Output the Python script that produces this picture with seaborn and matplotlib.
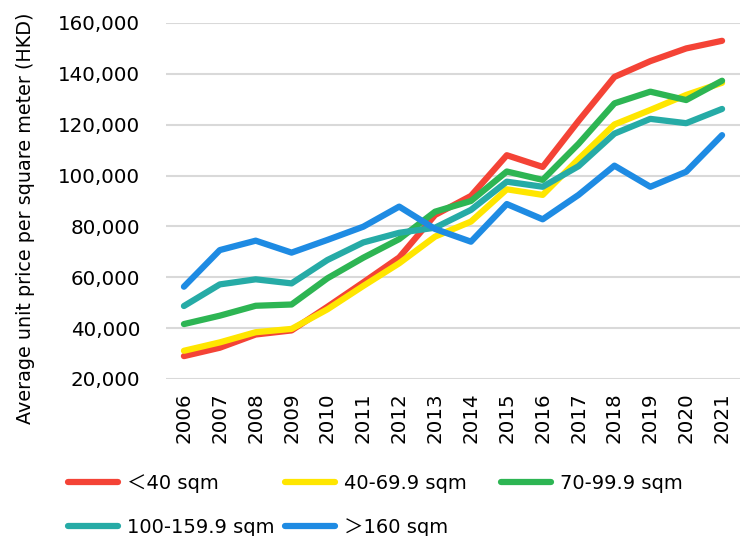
import matplotlib
matplotlib.use("Agg")
import matplotlib.pyplot as plt
import seaborn as sns
import pandas as pd
from matplotlib.font_manager import FontProperties

years = list(range(2006, 2022))
series_names = ["＜40 sqm", "40-69.9 sqm", "70-99.9 sqm", "100-159.9 sqm", "＞160 sqm"]
lt40 = [29000, 32300, 37500, 39100, 48400, 58000, 67800, 84500, 92000, 108000, 103400, 121500, 138800, 145000, 150000, 153000]
s40_69 = [31100, 34400, 38400, 39700, 47400, 56600, 65500, 76000, 81900, 94600, 92400, 106500, 120100, 125800, 131700, 136500]
s70_99 = [41600, 44900, 48800, 49300, 59600, 67700, 75000, 85800, 90000, 101600, 98300, 112500, 128400, 133000, 129700, 137300]
s100_159 = [48700, 57200, 59200, 57600, 66800, 73700, 77500, 79500, 86500, 97600, 95600, 103700, 116500, 122300, 120600, 126200]
gt160 = [56300, 70700, 74400, 69700, 74700, 79900, 87800, 79000, 74000, 88800, 82800, 92400, 103900, 95600, 101500, 115900]
colors = ["#F44336", "#FFE600", "#2DB553", "#26ABA6", "#1E8BE3"]

values = [lt40, s40_69, s70_99, s100_159, gt160]
df = pd.DataFrame({
    "year": years * len(series_names),
    "price": [v for s in values for v in s],
    "size": [n for n in series_names for _ in years],
})

sns.set_theme(style="white")
plt.rcParams["font.family"] = "DejaVu Sans"
plt.rcParams["text.color"] = "black"
plt.rcParams["xtick.color"] = "black"
plt.rcParams["ytick.color"] = "black"
plt.rcParams["axes.labelcolor"] = "black"

fig = plt.figure(figsize=(7.47, 5.36), dpi=100)
ax = fig.add_axes([166/747, 1-379/536, (740-166)/747, (379-23)/536])

sns.lineplot(data=df, x="year", y="price", hue="size", hue_order=series_names,
             palette=colors, linewidth=4.5, legend=False, ax=ax,
             solid_capstyle="round", solid_joinstyle="round")

ax.set_xlim(2005.5, 2021.5)
ax.set_ylim(20000, 160000)
ax.set_yticks(range(20000, 160001, 20000))
ax.set_yticklabels([f"{v:,}" for v in range(20000, 160001, 20000)], fontsize=14.3)
ax.set_xticks(years)
ax.set_xticklabels([str(y) for y in years], rotation=90, fontsize=14.3)
ax.tick_params(axis="y", length=0, pad=18.5)
ax.tick_params(axis="x", length=0, pad=9.5)
ax.grid(axis="y", color="#D9D9D9", linewidth=1.5)
ax.grid(axis="x", visible=False)
for sp in ax.spines.values():
    sp.set_visible(False)
ax.set_xlabel("")
ax.set_ylabel("Average unit price per square meter (HKD)", fontsize=13.8)
ax.yaxis.set_label_coords((35-166)/574, (379-218)/356)

prop = FontProperties(family=["DejaVu Sans", "Noto Sans CJK SC"], size=14)
cols = [[0, 3], [1, 4], [2]]
xs = [68, 285, 501]
for idx, x0 in zip(cols, xs):
    handles = [plt.Line2D([], [], color=colors[i], linewidth=4.5, solid_capstyle="round") for i in idx]
    labels = [series_names[i] for i in idx]
    fig.legend(handles, labels, loc="upper left", bbox_to_anchor=(x0/747, 1-474/536),
               frameon=False, prop=prop, handlelength=2.57, handletextpad=0.46,
               borderpad=0, borderaxespad=0, labelspacing=1.28)

fig.savefig("out.png", dpi=100)
